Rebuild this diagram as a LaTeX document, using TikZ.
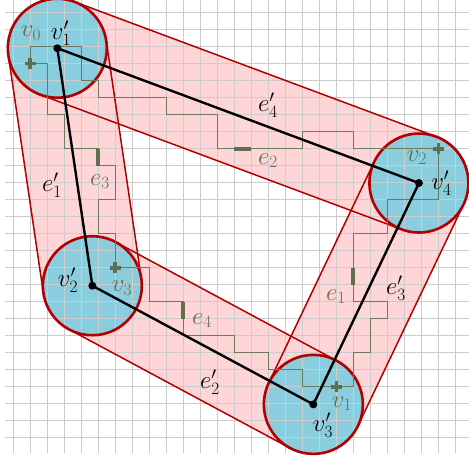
\documentclass[tikz,border=0pt]{standalone}
\usetikzlibrary{calc}
\DeclareMathSizes{24.88}{24.88}{17.28}{12}
\definecolor{bandfill}{RGB}{255,214,216}
\definecolor{bandline}{RGB}{178,0,0}
\definecolor{circfill}{RGB}{137,205,222}
\definecolor{gridc}{RGB}{204,204,204}
\definecolor{olivec}{RGB}{98,110,80}
\definecolor{olivepath}{RGB}{110,122,92}
\begin{document}
\begin{tikzpicture}[x=17pt,y=17pt,
  lab/.style={font=\Huge, inner sep=0pt},
  olab/.style={lab, text=olivec},
  opath/.style={olivepath, line width=1.1pt, line join=miter},
  obar/.style={olivec, line width=4pt},
  plusmark/.style={olivec, line width=3.6pt},
  edgeline/.style={black, line width=2.4pt},
  bandedge/.style={bandline, line width=1.5pt},
  ring/.style={bandline, line width=2.6pt},
  gridline/.style={gridc, line width=1.1pt}]
\def\R{49.5pt}
\useasboundingbox (-0.782,-1.194) rectangle (26.806,25.747);
\clip (-0.782,-1.194) rectangle (26.806,25.747);
\coordinate (p1) at (2.59,22.91);
\coordinate (p4) at (23.86,14.98);
\coordinate (p2) at (4.65,8.94);
\coordinate (p3) at (17.65,1.96);
% band fills
\foreach \a/\b in {p1/p4,p1/p2,p2/p3,p3/p4}{
  \fill[bandfill] ($(\a)!\R!90:(\b)$) -- ($(\b)!\R!-90:(\a)$) -- ($(\b)!\R!90:(\a)$) -- ($(\a)!\R!-90:(\b)$) -- cycle;
}
% circle fills
\foreach \p in {p1,p2,p3,p4}{ \fill[circfill] (\p) circle (\R); }
% grid
\foreach \i in {0,...,26}{ \draw[gridline] (\i,-0.92) -- (\i,26); }
\foreach \j in {0,...,25}{ \draw[gridline] (-0.5,\j) -- (27,\j); }
% band edges
\foreach \a/\b in {p1/p4,p1/p2,p2/p3,p3/p4}{
  \draw[bandedge] ($(\a)!\R!90:(\b)$) -- ($(\b)!\R!-90:(\a)$);
  \draw[bandedge] ($(\b)!\R!90:(\a)$) -- ($(\a)!\R!-90:(\b)$);
}
\foreach \p in {p1,p2,p3,p4}{ \draw[ring] (\p) circle (\R); }
% original graph
\coordinate (v0) at (1,22);
\coordinate (v1) at (19,3);
\coordinate (v2) at (25,17);
\coordinate (v3) at (6,10);
\draw[opath] (v0) -- (1,23) -- (4,23) -- (4,21) -- (5,21) -- (5,20) -- (9,20) -- (9,19) -- (12,19) -- (12,17) -- (17,17) -- (17,18) -- (20,18) -- (20,17) -- (v2);
\draw[opath] (v0) -- (2,22) -- (2,19) -- (3,19) -- (3,17) -- (5,17) -- (5,16) -- (6,16) -- (6,14) -- (5,14) -- (5,12) -- (6,12) -- (v3);
\draw[opath] (v3) -- (8,10) -- (8,8) -- (10,8) -- (10,6) -- (13,6) -- (13,5) -- (15,5) -- (15,4) -- (17,4) -- (17,3) -- (v1);
\draw[opath] (v1) -- (20,3) -- (20,5) -- (21,5) -- (21,7) -- (22,7) -- (22,8) -- (20,8) -- (20,12) -- (22,12) -- (22,14) -- (25,14) -- (v2);
\coordinate (b2a) at (13,17); \coordinate (b2b) at (14,17);
\coordinate (b3a) at (5,17); \coordinate (b3b) at (5,16);
\coordinate (b4a) at (10,8); \coordinate (b4b) at (10,7);
\coordinate (b1a) at (20,10); \coordinate (b1b) at (20,9);
\draw[obar] (b2a) -- (b2b);
\draw[obar] (b3a) -- (b3b);
\draw[obar] (b4a) -- (b4b);
\draw[obar] (b1a) -- (b1b);
\foreach \v in {v0,v1,v2,v3}{
  \draw[plusmark] ($(\v)+(-5.5pt,0)$) -- ($(\v)+(5.5pt,0)$);
  \draw[plusmark] ($(\v)+(0,-5.5pt)$) -- ($(\v)+(0,5.5pt)$);
}
% new graph
\draw[edgeline] (p1) -- (p4) -- (p3) -- (p2) -- cycle;
\foreach \p in {p1,p2,p3,p4}{ \fill[black] (\p) circle (4pt); }
% labels
\node[lab] (l1) at (2.81,23.80) {$v'_1$};
\node[lab] (l4) at (25.18,14.95) {$v'_4$};
\node[lab] (l2) at (3.22,9.25) {$v'_2$};
\node[lab] (l3) at (18.22,0.75) {$v'_3$};
\node[olab] (k0) at (1.04,23.78) {$v_0$};
\node[olab] (k2) at (23.75,16.48) {$v_2$};
\node[olab] (k3) at (6.39,8.78) {$v_3$};
\node[olab] (k1) at (19.33,2.01) {$v_1$};
\node[lab] (f4) at (14.98,19.56) {$e'_4$};
\node[olab] (g2) at (14.98,16.30) {$e_2$};
\node[olab] (g3) at (5.10,15.06) {$e_3$};
\node[lab] (f1) at (2.28,14.86) {$e'_1$};
\node[olab] (g4) at (11.10,6.88) {$e_4$};
\node[lab] (f2) at (11.57,3.28) {$e'_2$};
\node[olab] (g1) at (18.98,8.30) {$e_1$};
\node[lab] (f3) at (22.51,8.81) {$e'_3$};
\end{tikzpicture}
\end{document}
